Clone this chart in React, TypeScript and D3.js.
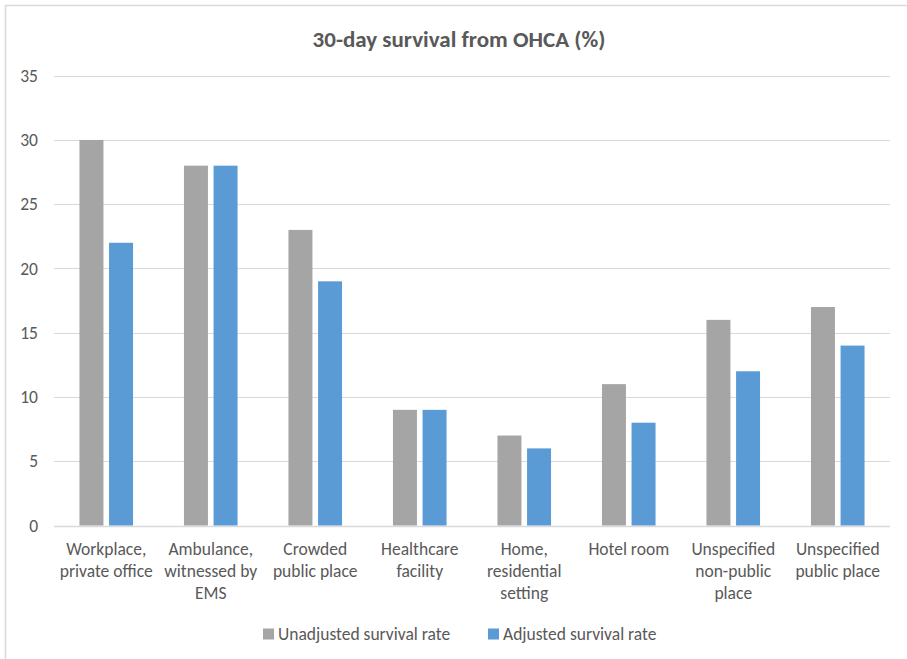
import React, { useEffect, useRef } from 'react';
import * as d3 from 'd3';

const categories: string[][] = [
  ['Workplace,', 'private office'],
  ['Ambulance,', 'witnessed by', 'EMS'],
  ['Crowded', 'public place'],
  ['Healthcare', 'facility'],
  ['Home,', 'residential', 'setting'],
  ['Hotel room'],
  ['Unspecified', 'non-public', 'place'],
  ['Unspecified', 'public place'],
];
const seriesNames = ['Unadjusted survival rate', 'Adjusted survival rate'];
const unadjusted = [30, 28, 23, 9, 7, 11, 16, 17];
const adjusted = [22, 28, 19, 9, 6, 8, 12, 14];
const yTicks = [0, 5, 10, 15, 20, 25, 30, 35];
const colors = ['#A5A5A5', '#5B9BD5'];

const FONT = "Carlito, Lato, 'Open Sans', sans-serif";

const App: React.FC = () => {
  const svgRef = useRef<SVGSVGElement>(null);

  useEffect(() => {
    if (!svgRef.current) return;
    const svg = d3.select(svgRef.current);
    svg.selectAll('*').remove();

    const left = 54;
    const right = 890;
    const top = 75.7;
    const bottom = 525.5;

    // chart border (right/bottom edges are cut off in the reference)
    svg.append('rect')
      .attr('x', 5.5).attr('y', 5.5)
      .attr('width', 1000).attr('height', 1000)
      .attr('fill', '#fff')
      .attr('stroke', '#D9D9D9')
      .attr('stroke-width', 1.5);

    const keys = categories.map((_, i) => String(i));
    const x0 = d3.scaleBand().domain(keys).range([left, right]);
    const x1 = d3.scaleBand()
      .domain(seriesNames)
      .range([0, x0.bandwidth()])
      .paddingInner(0.19)
      .paddingOuter(0.86);
    const y = d3.scaleLinear().domain([0, 35]).range([bottom, top]);

    // gridlines
    svg.append('g')
      .selectAll('line')
      .data(yTicks)
      .enter()
      .append('line')
      .attr('x1', left).attr('x2', right)
      .attr('y1', d => Math.round(y(d)) + 0.5)
      .attr('y2', d => Math.round(y(d)) + 0.5)
      .attr('stroke', '#D9D9D9')
      .attr('stroke-width', d => (d === 0 ? 1.5 : 1.2));

    // y tick labels
    svg.append('g')
      .selectAll('text')
      .data(yTicks)
      .enter()
      .append('text')
      .attr('x', 38)
      .attr('y', d => y(d))
      .attr('dy', '0.35em')
      .attr('text-anchor', 'end')
      .style('font-family', FONT)
      .style('font-size', '17.5px')
      .style('fill', '#595959')
      .text(d => d);

    // bars
    const values = [unadjusted, adjusted];
    const groups = svg.append('g')
      .selectAll('g')
      .data(keys)
      .enter()
      .append('g')
      .attr('transform', d => `translate(${x0(d)},0)`);

    groups.selectAll('rect')
      .data((_, i) => seriesNames.map((s, si) => ({ s, si, v: values[si][i] })))
      .enter()
      .append('rect')
      .attr('x', d => x1(d.s) as number)
      .attr('width', x1.bandwidth())
      .attr('y', d => y(d.v))
      .attr('height', d => y(0) - y(d.v))
      .attr('fill', d => colors[d.si]);

    // category labels
    const labels = svg.append('g')
      .selectAll('text')
      .data(categories)
      .enter()
      .append('text')
      .attr('x', (_, i) => (x0(keys[i]) as number) + x0.bandwidth() / 2)
      .attr('y', 549)
      .attr('text-anchor', 'middle')
      .style('font-family', FONT)
      .style('font-size', '17.5px')
      .style('fill', '#595959');

    labels.selectAll('tspan')
      .data(d => d)
      .enter()
      .append('tspan')
      .attr('x', function () {
        return (this.parentNode as SVGTextElement).getAttribute('x');
      })
      .attr('dy', (_, j) => (j === 0 ? '0.35em' : '22'))
      .text(d => d);

    // title
    svg.append('text')
      .attr('x', 459)
      .attr('y', 39)
      .attr('dy', '0.35em')
      .attr('text-anchor', 'middle')
      .style('font-family', FONT)
      .style('font-size', '23px')
      .style('font-weight', 'bold')
      .style('fill', '#595959')
      .text('30-day survival from OHCA (%)');

    // legend
    const legendX = [263, 488];
    const legend = svg.append('g')
      .selectAll('g')
      .data(seriesNames)
      .enter()
      .append('g')
      .attr('transform', (_, i) => `translate(${legendX[i]},634)`);

    legend.append('rect')
      .attr('x', 0).attr('y', -5.5)
      .attr('width', 11).attr('height', 11)
      .attr('fill', (_, i) => colors[i]);

    legend.append('text')
      .attr('x', 15)
      .attr('y', 0)
      .attr('dy', '0.35em')
      .style('font-family', FONT)
      .style('font-size', '17.5px')
      .style('fill', '#595959')
      .text(d => d);
  }, []);

  return (
    <svg
      ref={svgRef}
      width={907}
      height={659}
      style={{ position: 'absolute', left: 0, top: 0, background: '#fff' }}
    />
  );
};

export default App;
